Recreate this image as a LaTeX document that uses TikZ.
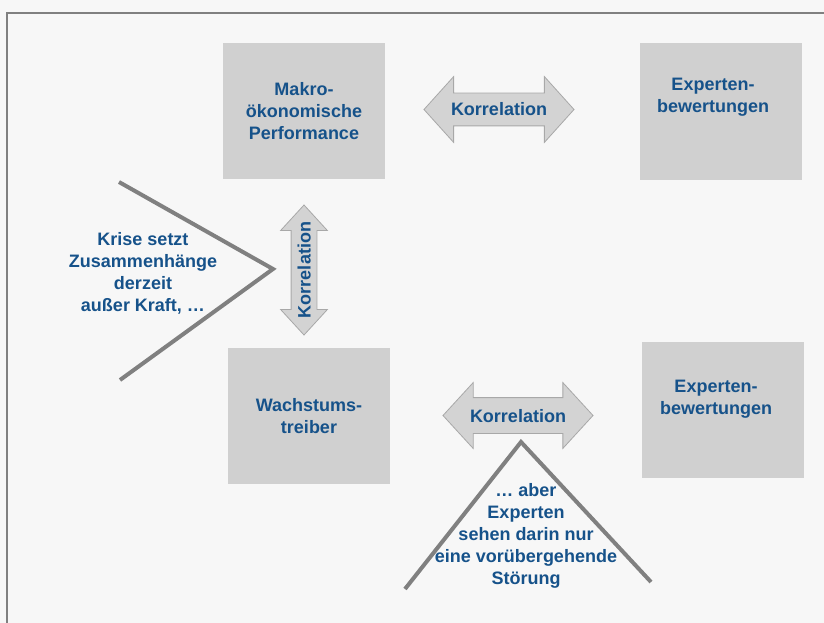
\documentclass[tikz,border=0pt]{standalone}
\usepackage{fontspec}
\setmainfont{Liberation Sans}
\usetikzlibrary{shapes.arrows}

\definecolor{bgcol}{HTML}{F7F7F7}
\definecolor{framecol}{HTML}{808080}
\definecolor{boxcol}{HTML}{D0D0D0}
\definecolor{arrowcol}{HTML}{D3D3D3}
\definecolor{arrowline}{HTML}{A8A8A8}
\definecolor{txtcol}{RGB}{22,82,138}

\begin{document}
\begin{tikzpicture}[x=1pt, y=-1pt,
        block/.style={rectangle, fill=boxcol, minimum width=162pt, minimum height=136pt, inner sep=0pt},
        txt/.style={text=txtcol, font=\fontsize{18}{22}\selectfont\bfseries, align=center},
        corr/.style={double arrow, draw=arrowline, fill=arrowcol, line width=0.8pt, txt,
                     text height=13pt, text depth=0pt, inner xsep=2pt},
        wedge/.style={draw=framecol, line width=4pt, line join=miter}
    ]
    % background and frame
    \path[use as bounding box, fill=bgcol] (0,0) rectangle (824,623);
    \draw[framecol, line width=2pt] (7,623) -- (7,13) -- (824,13);

    % boxes
    \node [block, txt] (makro) at (304,111) {Makro-\\ökonomische\\Performance};
    \node [block] (expA) at (721,111.5) {};
    \node [txt] (expAtext) at (713,97.5) {Experten-\\bewertungen};
    \node [block, txt] (wachstum) at (309,416) {Wachstums-\\treiber};
    \node [block] (expB) at (723,410) {};
    \node [txt] (expBtext) at (716,399) {Experten-\\bewertungen};

    % Korrelation arrows
    \node [corr, minimum height=150pt, minimum width=65pt, inner ysep=9.5pt,
           double arrow head extend=16.5pt, double arrow tip angle=96] (corrA) at (499,109.5) {Korrelation};
    \node [corr, rotate=90, minimum height=130pt, minimum width=46pt, inner ysep=6pt,
           double arrow head extend=10.5pt, double arrow tip angle=85] (corrB) at (304,270) {Korrelation};
    \node [corr, minimum height=150pt, minimum width=65pt, inner ysep=11pt,
           double arrow head extend=15pt, double arrow tip angle=95] (corrC) at (518,415.5) {Korrelation};

    % Krise wedge
    \coordinate (kA) at (119,182);
    \coordinate (kTip) at (273,269);
    \coordinate (kB) at (120,380);
    \draw [wedge] (kA) -- (kTip) -- (kB);
    \node [txt] (krise) at (143,273) {Krise setzt\\Zusammenhänge\\derzeit\\außer Kraft, …};

    % Stoerung wedge
    \coordinate (sA) at (405,589);
    \coordinate (sTop) at (521,442);
    \coordinate (sB) at (651,582);
    \draw [wedge] (sA) -- (sTop) -- (sB);
    \node [txt] (stoerung) at (526,536) {… aber\\Experten\\sehen darin nur\\eine vorübergehende\\Störung};
\end{tikzpicture}
\end{document}
